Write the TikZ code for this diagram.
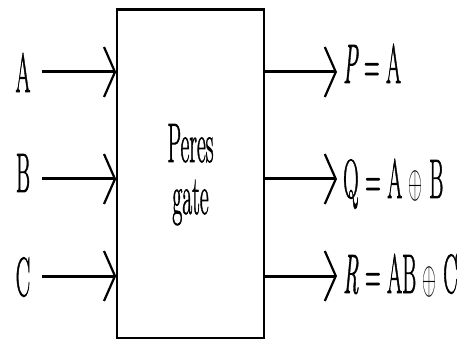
\documentclass[tikz,border=0pt]{standalone}
\usepackage{fontspec}
\newfontfamily\lblfont{Latin Modern Roman}[FakeBold=1.5]
\usetikzlibrary{arrows.meta}
\begin{document}
\begin{tikzpicture}[x=1pt,y=1pt,
  lbl/.style={font=\lblfont\fontsize{30}{36}\selectfont, xscale=0.72, yscale=1.85, inner sep=0pt},
  sig/.style={line width=3pt, -{Straight Barb[length=11pt,width=50pt,line width=2.2pt]}},
  gatebox/.style={draw, line width=1.6pt, minimum width=147pt, minimum height=328pt, inner sep=0pt}]
\useasboundingbox (0,0) rectangle (465,340);
\node[gatebox] (box) at (190.5,166) {};
\draw[line width=3pt] (box.north west) -- (box.north east);
\node[lbl, anchor=base] (name1) at (190.5,178) {Peres};
\node[lbl, anchor=base] (name2) at (190.5,126) {gate};
% inputs
\node[lbl, anchor=base] (A) at (23,248) {A};
\node[lbl, anchor=base] (B) at (23,148) {B};
\node[lbl, anchor=base] (C) at (23,44) {C};
\coordinate (ain) at (42,268);
\coordinate (bin) at (42,161);
\coordinate (cin) at (42,64);
\draw[sig] (ain) -- (ain -| box.west);
\draw[sig] (bin) -- (bin -| box.west);
\draw[sig] (cin) -- (cin -| box.west);
% outputs
\coordinate (pout) at (337,268);
\coordinate (qout) at (337,161);
\coordinate (rout) at (337,64);
\draw[sig] (pout -| box.east) -- (pout);
\draw[sig] (qout -| box.east) -- (qout);
\draw[sig] (rout -| box.east) -- (rout);
\node[lbl, anchor=base west] (P) at (343,257) {\itshape P\upshape{} = A};
\node[lbl, anchor=base west] (Q) at (343,142) {Q = A $\oplus$ B};
\node[lbl, anchor=base west] (R) at (343,47) {\itshape R\upshape{} = AB $\oplus$ C};
\end{tikzpicture}
\end{document}
